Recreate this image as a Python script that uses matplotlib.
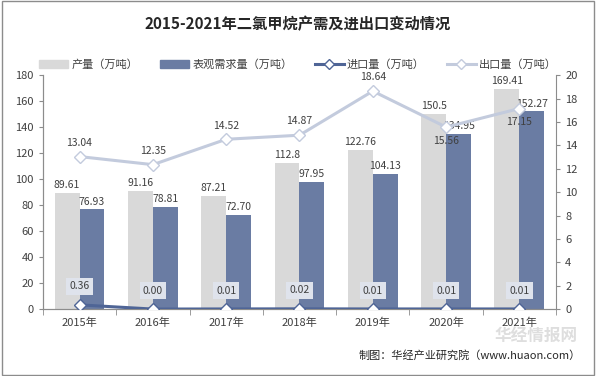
import matplotlib
matplotlib.use("Agg")
import matplotlib.pyplot as plt
import numpy as np
from matplotlib.lines import Line2D
from matplotlib.patches import Patch, Rectangle

plt.rcParams['font.family'] = ['Noto Sans CJK SC', 'DejaVu Sans']

years = ['2015年', '2016年', '2017年', '2018年', '2019年', '2020年', '2021年']
production = [89.61, 91.16, 87.21, 112.8, 122.76, 150.5, 169.41]
demand = [76.93, 78.81, 72.70, 97.95, 104.13, 134.95, 152.27]
imports = [0.36, 0.00, 0.01, 0.02, 0.01, 0.01, 0.01]
exports = [13.04, 12.35, 14.52, 14.87, 18.64, 15.56, 17.15]
prod_labels = ['89.61', '91.16', '87.21', '112.8', '122.76', '150.5', '169.41']
dem_labels = ['76.93', '78.81', '72.70', '97.95', '104.13', '134.95', '152.27']
imp_labels = ['0.36', '0.00', '0.01', '0.02', '0.01', '0.01', '0.01']
exp_labels = ['13.04', '12.35', '14.52', '14.87', '18.64', '15.56', '17.15']

c_prod = '#d9d9d9'
c_dem = '#6a7ca3'
c_imp = '#4f6596'
c_exp = '#c3cbdd'
tc = '#404040'

fig = plt.figure(figsize=(5.96, 3.76), dpi=100)
fig.patches.append(Rectangle((0.003, 0.003), 0.994, 0.994, transform=fig.transFigure,
                             fill=False, edgecolor='#8c8c8c', linewidth=1.0))
ax = fig.add_axes([0.072, 0.178, 0.861, 0.622])
ax2 = ax.twinx()

x = np.arange(len(years))
w = 0.34
ax.bar(x - w/2, production, w, color=c_prod, zorder=2)
ax.bar(x + w/2, demand, w, color=c_dem, zorder=2)
ax.set_xlim(-0.5, len(years) - 0.5)
ax.set_ylim(0, 180)
ax.set_yticks(np.arange(0, 181, 20))
ax2.set_ylim(0, 20)
ax2.set_yticks(np.arange(0, 21, 2))

for i in range(len(years)):
    ax.text(x[i] - w/2, production[i] + 2, prod_labels[i], ha='center', va='bottom',
            fontsize=7.5, color=tc, zorder=5)
    ax.text(x[i] + w/2, demand[i] + 2, dem_labels[i], ha='center', va='bottom',
            fontsize=7.5, color=tc, zorder=5)

ax2.plot(x, exports, color=c_exp, linewidth=2.2, marker='D', markersize=6,
         markerfacecolor='white', markeredgecolor=c_exp, zorder=4)
ax2.plot(x, imports, color=c_imp, linewidth=2.2, marker='D', markersize=6,
         markerfacecolor='white', markeredgecolor=c_imp, zorder=4)

for i in range(len(years)):
    if i >= 5:
        ax2.text(x[i], exports[i] - 0.75, exp_labels[i], ha='center', va='top',
                 fontsize=7.5, color=tc, zorder=6)
    else:
        ax2.text(x[i], exports[i] + 0.75, exp_labels[i], ha='center', va='bottom',
                 fontsize=7.5, color=tc, zorder=6)
    ax2.text(x[i], imports[i] + 1.15, imp_labels[i], ha='center', va='bottom',
             fontsize=7.5, color=tc, zorder=6,
             bbox=dict(boxstyle='square,pad=0.3', facecolor='#dfe3ec', edgecolor='none'))

ax.set_xticks(x)
ax.set_xticklabels(years, fontsize=8, color=tc)
ax.set_xticks(np.arange(-0.5, len(years), 1), minor=True)
ax.tick_params(axis='x', which='major', length=0, pad=6)
ax.tick_params(axis='x', which='minor', length=4, color='#8c8c8c')
ax.tick_params(axis='y', labelsize=8, labelcolor=tc, length=3, color='#8c8c8c')
ax2.tick_params(axis='y', labelsize=8, labelcolor=tc, length=3, color='#8c8c8c')
for a in (ax, ax2):
    a.spines['top'].set_visible(False)
    for s in ('left', 'right', 'bottom'):
        a.spines[s].set_color('#8c8c8c')
ax.spines['right'].set_visible(False)

fig.text(0.5, 0.935, '2015-2021年二氯甲烷产需及进出口变动情况', ha='center', va='center',
         fontsize=11, fontweight='bold', color='#262626')

handles = [Patch(color=c_prod), Patch(color=c_dem),
           Line2D([], [], color=c_imp, lw=2.2, marker='D', markersize=5,
                  markerfacecolor='white', markeredgecolor=c_imp),
           Line2D([], [], color=c_exp, lw=2.2, marker='D', markersize=5,
                  markerfacecolor='white', markeredgecolor=c_exp)]
labels = ['产量（万吨）', '表观需求量（万吨）', '进口量（万吨）', '出口量（万吨）']
fig.legend(handles, labels, loc='center', bbox_to_anchor=(0.5, 0.828), ncol=4,
           frameon=False, fontsize=8, handlelength=2.6, columnspacing=2.0,
           handletextpad=0.3, labelcolor=tc)

fig.text(0.975, 0.055, '制图：华经产业研究院（www.huaon.com）', ha='right', va='center',
         fontsize=8, color='#262626')
fig.text(0.97, 0.105, '华经情报网', ha='right', va='center', fontsize=12,
         fontweight='bold', color='#c8c8c8', alpha=0.6)

fig.savefig('out.png', dpi=100)
